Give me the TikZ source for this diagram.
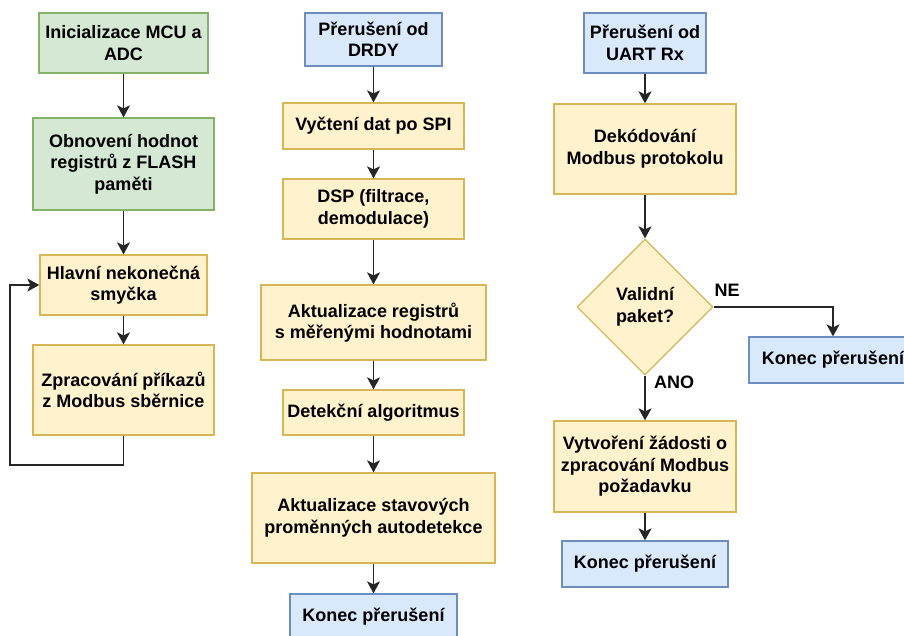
\documentclass[tikz,border=0pt]{standalone}
\usepackage{fontspec}
\setmainfont{Liberation Sans}
\usetikzlibrary{shapes.geometric,arrows.meta}
\definecolor{gfill}{HTML}{D5E8D4}
\definecolor{gline}{HTML}{82B366}
\definecolor{yfill}{HTML}{FFF2CC}
\definecolor{yline}{HTML}{D6B656}
\definecolor{bfill}{HTML}{DAE8FC}
\definecolor{bline}{HTML}{6C8EBF}
\definecolor{arr}{HTML}{262626}
\begin{document}
\begin{tikzpicture}[x=1pt,y=-1pt,
  every node/.style={font=\fontsize{18}{21.5}\selectfont\bfseries, align=center, inner sep=0pt},
  box/.style={rectangle, line width=1.3pt, minimum width=#1},
  gbox/.style={box=#1, draw=gline, fill=gfill},
  ybox/.style={box=#1, draw=yline, fill=yfill},
  bbox/.style={box=#1, draw=bline, fill=bfill},
  conn/.style={draw=arr, line width=1.7pt, -{Stealth[length=12pt,width=13pt,inset=3pt]}},
  lbl/.style={font=\fontsize{18}{21.5}\selectfont\bfseries}
]
\useasboundingbox (0,0) rectangle (904,635);
\clip (0,0) rectangle (904,635);
% left column
\node[gbox=169, minimum height=60] (a1) at (123.5,43) {Inicializace MCU a\\ADC};
\node[gbox=181, minimum height=92] (a2) at (123.5,164) {Obnovení hodnot\\registrů z FLASH\\paměti};
\node[ybox=167, minimum height=60] (a3) at (123.5,285) {Hlavní nekonečná\\smyčka};
\node[ybox=181, minimum height=90] (a4) at (123.5,390) {Zpracování příkazů\\z Modbus sběrnice};
\coordinate (l1) at (123.5,465);
\coordinate (l2) at (10,465);
\coordinate (l3) at (10,285);
% middle column
\node[bbox=137, minimum height=53] (b1) at (373.5,39.5) {Přerušení od\\DRDY};
\node[ybox=181, minimum height=46] (b2) at (373.5,126) {Vyčtení dat po SPI};
\node[ybox=181, minimum height=60] (b3) at (373.5,209) {DSP (filtrace,\\demodulace)};
\node[ybox=225, minimum height=75] (b4) at (373.5,322.5) {Aktualizace registrů\\s měřenými hodnotami};
\node[ybox=181, minimum height=45] (b5) at (373.5,412.5) {Detekční algoritmus};
\node[ybox=243, minimum height=90] (b6) at (373.5,518) {Aktualizace stavových\\proměnných autodetekce};
\node[bbox=167, minimum height=46] (b7) at (373.5,617) {Konec přerušení};
% right column
\node[bbox=122, minimum height=60] (c1) at (645,43) {Přerušení od\\UART Rx};
\node[ybox=182, minimum height=90] (c2) at (645,149) {Dekódování\\Modbus protokolu};
\node[diamond, draw=yline, fill=yfill, line width=1.3pt, minimum width=136, minimum height=136] (c3) at (645,307) {Validní\\paket?};
\node[ybox=182, minimum height=91] (c4) at (645,466.5) {Vytvoření žádosti o\\zpracování Modbus\\požadavku};
\node[bbox=166, minimum height=46] (c5) at (645,564) {Konec přerušení};
\node[bbox=168, minimum height=46] (c6) at (833,360) {Konec přerušení};
\coordinate (r1) at (833,307);
\node[lbl] (ne) at (727,290) {NE};
\node[lbl] (ano) at (674,382) {ANO};
% connectors
\draw[conn] (a1) -- (a2);
\draw[conn] (a2) -- (a3);
\draw[conn] (a3) -- (a4);
\draw[conn] (a4.south) -- (l1) -- (l2) -- (l3) -- (a3.west);
\draw[conn] (b1) -- (b2);
\draw[conn] (b2) -- (b3);
\draw[conn] (b3) -- (b4);
\draw[conn] (b4) -- (b5);
\draw[conn] (b5) -- (b6);
\draw[conn] (b6) -- (b7);
\draw[conn] (c1) -- (c2);
\draw[conn] (c2) -- (c3);
\draw[conn] (c3) -- (c4);
\draw[conn] (c4) -- (c5);
\draw[conn] (c3.east) -- (r1) -- (c6.north);
\end{tikzpicture}
\end{document}
